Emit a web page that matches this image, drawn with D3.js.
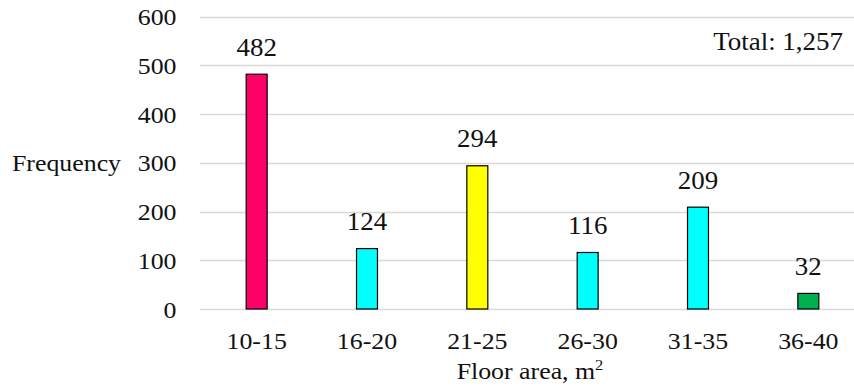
<!DOCTYPE html>
<html>
<head>
<meta charset="utf-8">
<script src="https://cdn.jsdelivr.net/npm/d3@7"></script>
<style>
  html, body { margin: 0; padding: 0; background: #ffffff; }
  svg { display: block; }
  text { font-family: "Liberation Serif", "Times New Roman", serif; fill: #111111; }
</style>
</head>
<body>
<svg id="chart" width="854" height="388"></svg>
<script>
// Floor-area frequency distribution
const categories = ["10-15", "16-20", "21-25", "26-30", "31-35", "36-40"];
const frequencies = [482, 124, 294, 116, 209, 32];
const barColors = ["#FF0066", "#00FFFF", "#FFFF00", "#00FFFF", "#00FFFF", "#00B050"];
const yTicks = [0, 100, 200, 300, 400, 500, 600];
const totalLabel = "Total: " + d3.format(",")(d3.sum(frequencies));

const W = 854, H = 388;
const svg = d3.select("#chart");

const x = d3.scaleBand()
  .domain(categories)
  .range([201.5, 863.5])
  .paddingInner(0.81)
  .paddingOuter(0.405);

const y = d3.scaleLinear()
  .domain([0, 600])
  .range([309, 16.7]);

// Text drawn slightly wider than tall, like the serif labels of the chart
const STRETCH = 1.1;
function label(parent, px, py, str, size, anchor) {
  const g = parent.append("g")
    .attr("transform", `translate(${px},${py}) scale(${STRETCH},1)`);
  const t = g.append("text")
    .attr("x", 0).attr("y", 0)
    .attr("font-size", size)
    .attr("text-anchor", anchor)
    .text(str);
  return t;
}

// Horizontal gridlines
svg.append("g")
  .selectAll("line")
  .data(yTicks)
  .join("line")
  .attr("x1", 200).attr("x2", W)
  .attr("y1", d => Math.round(y(d)) + 0.5)
  .attr("y2", d => Math.round(y(d)) + 0.5)
  .attr("stroke", "#d9d9d9")
  .attr("stroke-width", 1.3);

// Y tick labels
const yLab = svg.append("g");
yTicks.forEach(t => label(yLab, 176.5, y(t) + 8.5, String(t), 23.5, "end"));

// Bars
svg.append("g")
  .selectAll("rect")
  .data(frequencies)
  .join("rect")
  .attr("x", (d, i) => x(categories[i]))
  .attr("y", d => y(d))
  .attr("width", x.bandwidth())
  .attr("height", d => y(0) - y(d))
  .attr("fill", (d, i) => barColors[i])
  .attr("stroke", "#000")
  .attr("stroke-width", 1.2);

// Value labels
const vLab = svg.append("g");
frequencies.forEach((v, i) => {
  label(vLab, x(categories[i]) + x.bandwidth() / 2, y(v) - 18.3, String(v), 24.5, "middle");
});

// Category labels
const cLab = svg.append("g");
categories.forEach(c => {
  label(cLab, x(c) + x.bandwidth() / 2, 349, c, 23.5, "middle");
});

// Axis titles
label(svg, 12, 170.5, "Frequency", 23.5, "start");
const xt = label(svg, 530, 379, "Floor area, m", 23.5, "middle");
xt.append("tspan").attr("dy", -9).attr("font-size", 15).text("2");

// Total annotation
label(svg, 843, 50, totalLabel, 24.5, "end");
</script>
</body>
</html>
